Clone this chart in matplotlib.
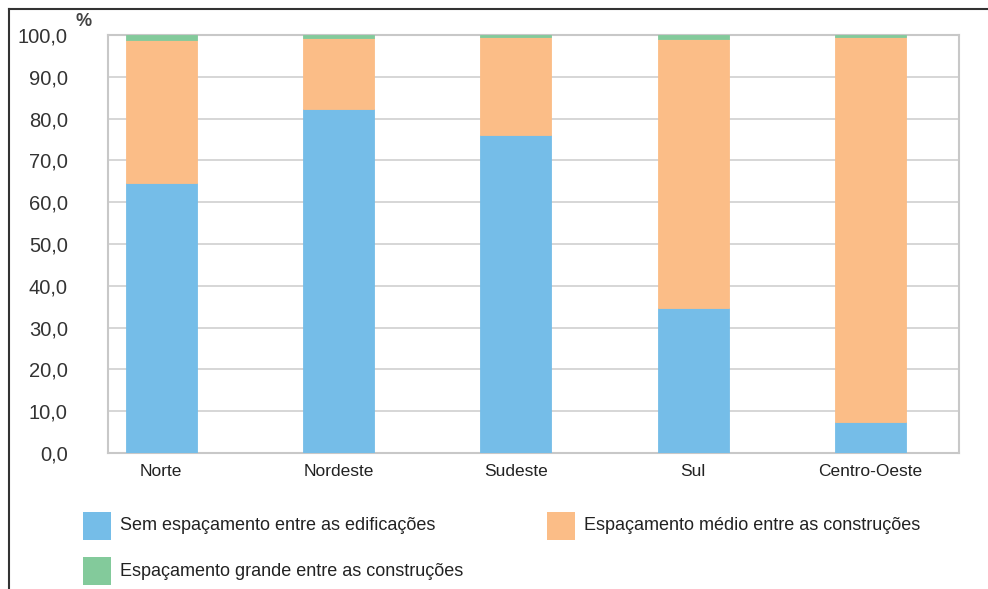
import matplotlib
matplotlib.use("Agg")
import matplotlib.pyplot as plt
from matplotlib.patches import Rectangle

regioes = ["Norte", "Nordeste", "Sudeste", "Sul", "Centro-Oeste"]
sem_espacamento = [64.6, 82.3, 76.1, 34.7, 7.3]
espacamento_medio = [34.2, 17.1, 23.4, 64.3, 92.2]
espacamento_grande = [1.2, 0.6, 0.5, 1.0, 0.5]
yticks = [0, 10, 20, 30, 40, 50, 60, 70, 80, 90, 100]

serie_nomes = ["Sem espaçamento entre as edificações",
               "Espaçamento médio entre as construções",
               "Espaçamento grande entre as construções"]
cores = ["#75bde8", "#fbbd87", "#83ca9b"]

plt.rcParams['font.family'] = ['Liberation Sans', 'DejaVu Sans']

fig = plt.figure(figsize=(9.88, 5.89), dpi=100)
ax = fig.add_axes([108 / 988, 1 - 453 / 589, (959 - 108) / 988, (453 - 35) / 589])

x = list(range(len(regioes)))
base = [0] * len(regioes)
for valores, cor in zip([sem_espacamento, espacamento_medio, espacamento_grande], cores):
    ax.bar(x, valores, bottom=base, width=0.40, color=cor, edgecolor=cor, linewidth=0.6, zorder=3)
    base = [b + v for b, v in zip(base, valores)]

ax.set_xlim(-0.30, 4.50)
ax.set_ylim(0, 100)
ax.set_yticks(yticks)
ax.set_yticklabels([f"{v:.1f}".replace(".", ",") for v in yticks], fontsize=14.5, color="#333333")
ax.set_xticks(x)
ax.set_xticklabels(regioes, fontsize=12.5, color="#222222")
ax.tick_params(axis="both", length=0)
ax.tick_params(axis="y", pad=29)
ax.tick_params(axis="x", pad=8)
ax.grid(axis="y", color="#d0d0d0", linewidth=1.2, zorder=0)
for s in ax.spines.values():
    s.set_color("#c8c8c8")
    s.set_linewidth(1.5)

fig.text(75 / 988, 1 - 22 / 589, "%", fontsize=13, color="#444444", va="center", ha="left",
         fontweight="bold")

# legenda manual
leg_pos = [(83, 512), (547, 512), (83, 557)]
for (lx, ly), nome, cor in zip(leg_pos, serie_nomes, cores):
    fig.patches.append(Rectangle((lx / 988, 1 - (ly + 28) / 589), 28 / 988, 28 / 589,
                                 transform=fig.transFigure, facecolor=cor, edgecolor="none"))
    fig.text((lx + 37) / 988, 1 - (ly + 14) / 589, nome, fontsize=13, color="#222222",
             va="center", ha="left")

# moldura
fig.add_artist(plt.Line2D([9 / 988, 1], [1 - 9 / 589, 1 - 9 / 589], transform=fig.transFigure,
                          color="#333333", linewidth=1.5))
fig.add_artist(plt.Line2D([9 / 988, 9 / 988], [0, 1 - 9 / 589], transform=fig.transFigure,
                          color="#333333", linewidth=1.5))

fig.savefig("out.png", dpi=100)
